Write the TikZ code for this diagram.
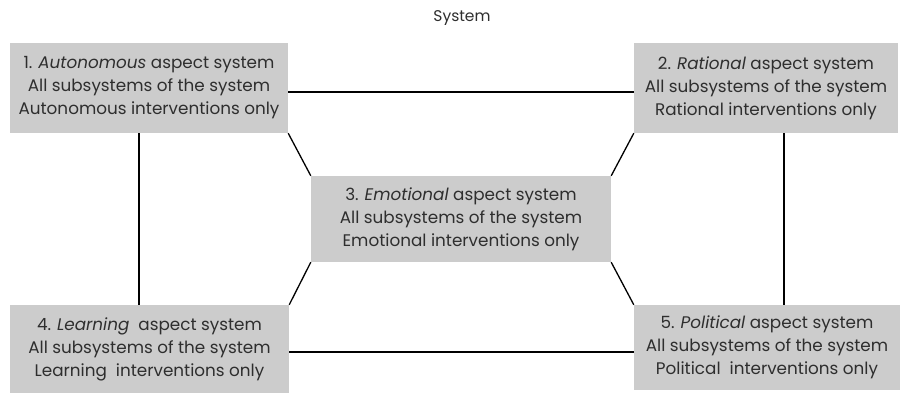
\documentclass[tikz,border=0pt]{standalone}
\usepackage{fontspec}
\setmainfont{Poppins}
\begin{document}
\begin{tikzpicture}[x=1pt,y=-1pt,
  aspectbox/.style={fill=boxgray, draw=none, inner sep=0pt, align=center,
    text=black!82, font=\fontsize{16.8}{23}\selectfont},
  link/.style={line width=1.3pt, black}]
\definecolor{boxgray}{RGB}{204,204,204}
\useasboundingbox (0,0) rectangle (900,394);

% title
\node[font=\fontsize{15.5}{18}\selectfont, text=black!82] (title) at (462,18) {System};

% the five aspect systems
\node[aspectbox, minimum width=278pt, minimum height=90pt] (b1) at (149,88)
  {1. \textit{Autonomous} aspect system\\All subsystems of the system\\Autonomous interventions only};
\node[aspectbox, minimum width=264pt, minimum height=90pt] (b2) at (766,88)
  {2. \textit{Rational} aspect system\\All subsystems of the system\\Rational interventions only};
\node[aspectbox, minimum width=300pt, minimum height=86pt] (b3) at (461,219)
  {3. \textit{Emotional} aspect system\\All subsystems of the system\\Emotional interventions only};
\node[aspectbox, minimum width=279pt, minimum height=88pt] (b4) at (149.5,349)
  {4. \textit{Learning}\ \ aspect system\\All subsystems of the system\\Learning\ \ interventions only};
\node[aspectbox, minimum width=266pt, minimum height=85pt] (b5) at (767,347.5)
  {5. \textit{Political} aspect system\\All subsystems of the system\\Political\ \ interventions only};

% outer ring
\draw[link] ([yshift=-4pt]b1.east) -- ([yshift=-4pt]b1.east -| b2.west);
\draw[link] ([yshift=-3pt]b4.east) -- ([yshift=-3pt]b4.east -| b5.west);
\draw[link] ([xshift=-10pt]b1.south) -- ([xshift=-10pt]b1.south |- b4.north);
\draw[link] ([xshift=18pt]b2.south) -- ([xshift=18pt]b2.south |- b5.north);

% spokes to the centre
\draw[link] (b1.south east) -- (b3.north west);
\draw[link] (b2.south west) -- (b3.north east);
\draw[link] (b3.south west) -- (b4.north east);
\draw[link] (b3.south east) -- (b5.north west);
\end{tikzpicture}
\end{document}
